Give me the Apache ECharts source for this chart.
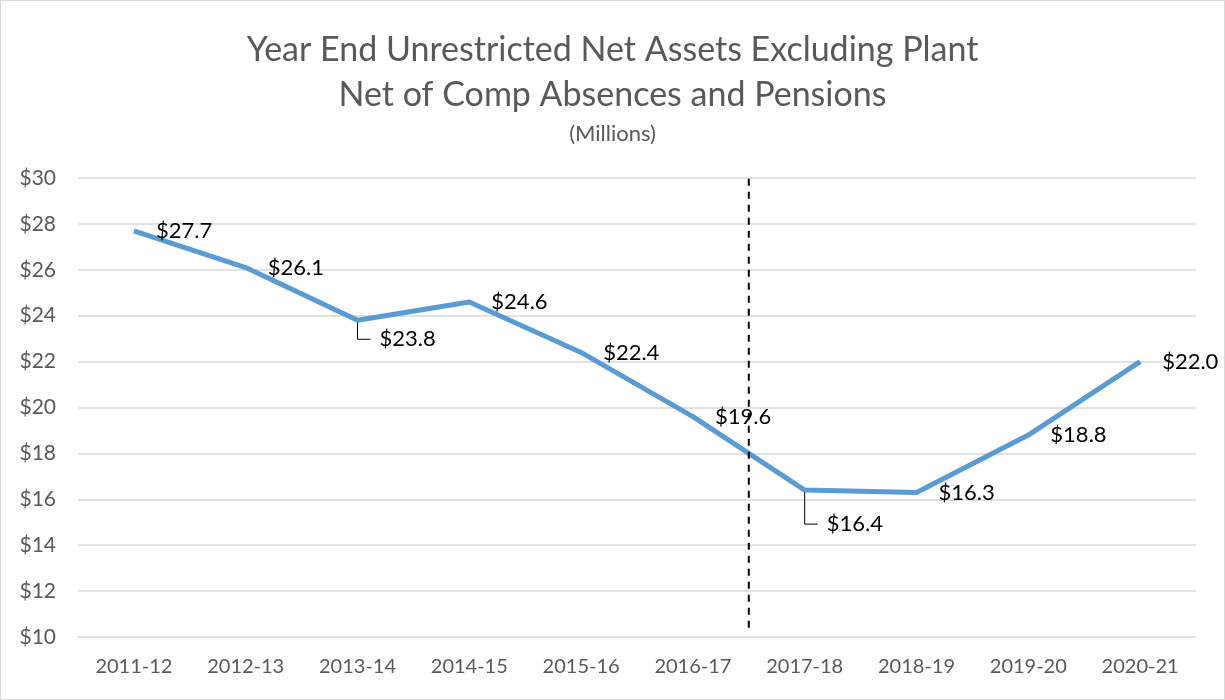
<!DOCTYPE html>
<html><head><meta charset="utf-8">
<script src="https://cdn.jsdelivr.net/npm/echarts@6/dist/echarts.min.js"></script>
<style>html,body{margin:0;padding:0;background:#fff}#c{width:1225px;height:700px;box-sizing:border-box;border:1px solid #d9d9d9}</style>
</head><body><div id="c"></div>
<script>
const categories = ['2011-12','2012-13','2013-14','2014-15','2015-16','2016-17','2017-18','2018-19','2019-20','2020-21'];
const values = [27.7, 26.1, 23.8, 24.6, 22.4, 19.6, 16.4, 16.3, 18.8, 22.0];
const yTicks = [10, 12, 14, 16, 18, 20, 22, 24, 26, 28, 30];
const dividerPosition = 6; // boundary between 2016-17 and 2017-18
const dividerRange = [10.4, 30];
const calloutPoints = ['2013-14', '2017-18'];
const calloutDrop = { '2013-14': 19, '2017-18': 34 };

const F = 'Lato, "Open Sans", sans-serif';
const chart = echarts.init(document.getElementById('c'));
const seriesData = values.map((v, i) => {
  const item = { value: v };
  if (calloutPoints.includes(categories[i])) {
    item.label = { offset: [0, calloutDrop[categories[i]]] };
  }
  return item;
});
const calloutData = calloutPoints.map(c => [categories.indexOf(c), values[categories.indexOf(c)], calloutDrop[c]]);
chart.setOption({
  animation: false,
  title: [
    { text: 'Year End Unrestricted Net Assets Excluding Plant\nNet of Comp Absences and Pensions', left: 'center', top: 22,
      textStyle: { fontFamily: F, fontSize: 34, fontWeight: 'normal', color: '#595959', lineHeight: 45 } },
    { text: '(Millions)', left: 'center', top: 117,
      textStyle: { fontFamily: F, fontSize: 22, fontWeight: 'normal', color: '#595959' } }
  ],
  grid: { left: 77, right: 28, top: 177, bottom: 62 },
  xAxis: [{
    type: 'category', data: categories, boundaryGap: true,
    axisLine: { show: false }, axisTick: { show: false },
    axisLabel: { fontFamily: F, fontSize: 20, color: '#595959', margin: 20 }
  }, {
    type: 'value', min: 0, max: 10, show: false
  }],
  yAxis: {
    type: 'value', min: yTicks[0], max: yTicks[yTicks.length - 1], interval: 2,
    axisLine: { show: false }, axisTick: { show: false },
    splitLine: { lineStyle: { color: '#d9d9d9', width: 1.5 } },
    axisLabel: { fontFamily: F, fontSize: 21, color: '#595959', margin: 22, formatter: v => '$' + v }
  },
  series: [{
    type: 'line', data: seriesData, xAxisIndex: 0, z: 3,
    lineStyle: { color: '#5B9BD5', width: 5 }, itemStyle: { color: '#5B9BD5' },
    symbol: 'circle', symbolSize: 0.1, showSymbol: true,
    label: { show: true, position: 'right', distance: 22, fontFamily: F, fontSize: 22, color: '#000',
      formatter: p => '$' + p.value.toFixed(1) }
  }, {
    type: 'custom', xAxisIndex: 0, data: calloutData, z: 2, silent: true,
    renderItem: (params, api) => {
      const p = api.coord([api.value(0), api.value(1)]);
      const d = api.value(2);
      return { type: 'polyline', shape: { points: [[p[0], p[1]], [p[0], p[1] + d], [p[0] + 13, p[1] + d]] },
        style: { stroke: '#000', lineWidth: 1, fill: null } };
    }
  }, {
    type: 'line', xAxisIndex: 1, data: dividerRange.map(y => [dividerPosition, y]),
    symbol: 'none', lineStyle: { color: '#000', width: 2, type: [7, 6] }, silent: true
  }]
});
</script></body></html>
